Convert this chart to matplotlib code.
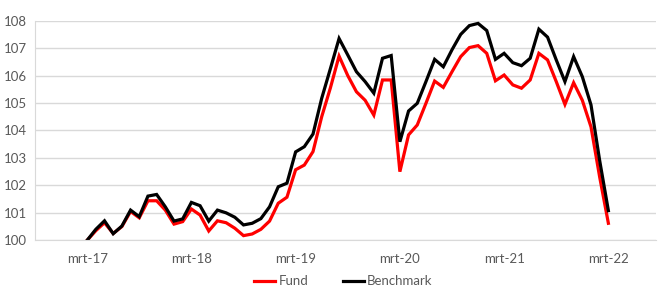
import matplotlib
matplotlib.use("Agg")
import matplotlib.pyplot as plt
import numpy as np

# Monthly data, Mar 2017 .. Mar 2022
fund = [100.0, 100.35, 100.64, 100.25, 100.5, 101.05, 100.82, 101.44, 101.44, 101.1,
        100.59, 100.68, 101.14, 100.92, 100.34, 100.71, 100.64, 100.44, 100.17, 100.23,
        100.4, 100.7, 101.35, 101.57, 102.57, 102.74, 103.23, 104.5, 105.55, 106.71,
        106.0, 105.41, 105.1, 104.56, 105.84, 105.84, 102.5, 103.84, 104.2, 104.99,
        105.8, 105.57, 106.14, 106.69, 107.02, 107.09, 106.81, 105.81, 106.02, 105.66,
        105.54, 105.84, 106.81, 106.57, 105.78, 104.95, 105.74, 105.1, 104.13, 102.3,
        100.62]
benchmark = [100.0, 100.4, 100.71, 100.24, 100.52, 101.1, 100.86, 101.61, 101.67, 101.22,
             100.7, 100.78, 101.38, 101.26, 100.7, 101.1, 101.0, 100.84, 100.56, 100.62,
             100.79, 101.22, 101.95, 102.08, 103.22, 103.41, 103.87, 105.17, 106.25, 107.35,
             106.75, 106.14, 105.78, 105.36, 106.63, 106.73, 103.59, 104.71, 104.99, 105.78,
             106.59, 106.32, 106.94, 107.5, 107.82, 107.9, 107.64, 106.59, 106.81, 106.47,
             106.36, 106.63, 107.69, 107.4, 106.57, 105.78, 106.69, 105.96, 104.93, 102.9,
             101.08]
tick_pos = [0, 12, 24, 36, 48, 60]
tick_labels = ["mrt-17", "mrt-18", "mrt-19", "mrt-20", "mrt-21", "mrt-22"]
y_ticks = [100, 101, 102, 103, 104, 105, 106, 107, 108]

plt.rcParams['font.family'] = ['Lato', 'DejaVu Sans']
text_color = '#595959'
grid_color = '#d9d9d9'

fig = plt.figure(figsize=(6.58, 2.89), dpi=100)
ax = fig.add_axes([0.0532, 0.1685, 0.944, 0.760])

x = np.arange(len(fund))
ax.plot(x, fund, color='#ff0000', lw=2.3, label='Fund', solid_joinstyle='miter')
ax.plot(x, benchmark, color='#000000', lw=2.3, label='Benchmark', solid_joinstyle='miter')

ax.set_xlim(-6.0, 65.5)
ax.set_ylim(100, 108)
ax.set_yticks(y_ticks)
ax.set_yticklabels([str(v) for v in y_ticks])
ax.set_xticks(tick_pos)
ax.set_xticklabels(tick_labels)
ax.tick_params(axis='both', length=0, colors=text_color, labelsize=9.5)
ax.tick_params(axis='y', pad=6)
ax.tick_params(axis='x', pad=9)
ax.grid(axis='y', color=grid_color, lw=1)
ax.set_axisbelow(True)
for s in ['top', 'right']:
    ax.spines[s].set_visible(False)
ax.spines['left'].set_color(grid_color)
ax.spines['bottom'].set_color(grid_color)

leg = fig.legend(loc='lower center', bbox_to_anchor=(0.522, -0.035), ncol=2, frameon=False,
                 fontsize=9.5, handlelength=1.6, handletextpad=0.25, columnspacing=2.6)
for t in leg.get_texts():
    t.set_color(text_color)

fig.savefig('out.png', dpi=100)
